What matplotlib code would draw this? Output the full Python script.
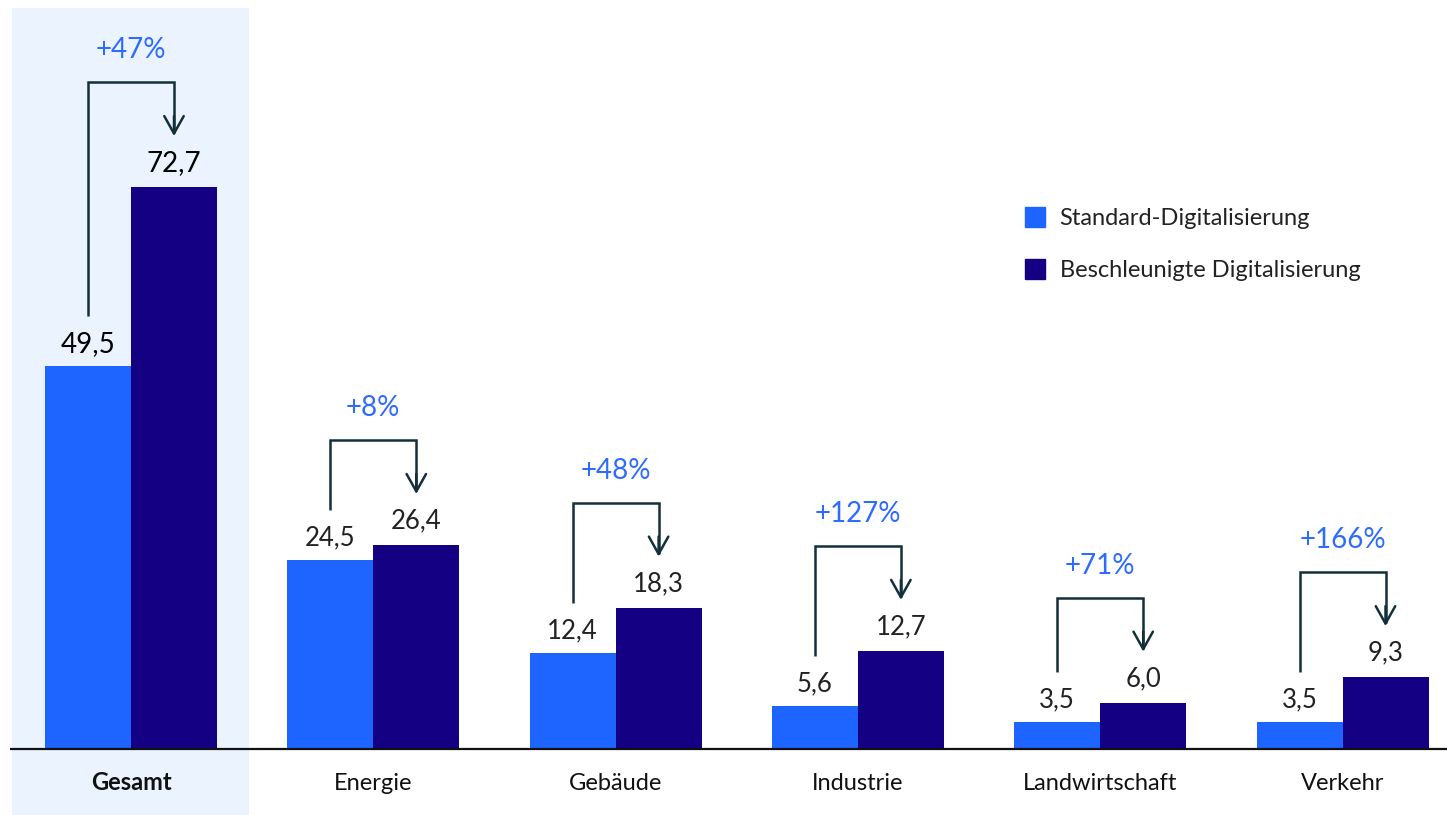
import matplotlib.pyplot as plt
from matplotlib.lines import Line2D
from matplotlib.patches import Rectangle

plt.rcParams['font.family'] = ['Lato', 'DejaVu Sans']

categories = ['Gesamt', 'Energie', 'Gebäude', 'Industrie', 'Landwirtschaft', 'Verkehr']
standard = [49.5, 24.5, 12.4, 5.6, 3.5, 3.5]
beschleunigt = [72.7, 26.4, 18.3, 12.7, 6.0, 9.3]
changes = ['+47%', '+8%', '+48%', '+127%', '+71%', '+166%']
series_names = ['Standard-Digitalisierung', 'Beschleunigte Digitalisierung']

c_std = '#1E64FF'
c_acc = '#140082'
c_arrow = '#12303A'
c_pct = '#2D6BFF'
c_bg = '#EAF3FE'

W, H = 1447, 815
fig = plt.figure(figsize=(W / 100, H / 100), dpi=100)
ax = fig.add_axes([0, 0, 1, 1])

# pixel geometry -> data units
px_x = 242.3          # px per category step
px_y = 7.73           # px per unit value
x0_px, base_px = 131, 749
ax.set_xlim(-x0_px / px_x, (W - x0_px) / px_x)
ax.set_ylim(-(H - base_px) / px_y, base_px / px_y)
ax.axis('off')
dy = 1 / px_y
bw = 86 / px_x

# highlight behind Gesamt
ax.add_patch(Rectangle((-0.49, -(H - base_px) / px_y), 0.978,
                       (base_px - 8) / px_y + (H - base_px) / px_y,
                       color=c_bg, zorder=0, lw=0))

xs = list(range(len(categories)))
ax.bar([x - bw / 2 for x in xs], standard, width=bw, color=c_std, zorder=2)
ax.bar([x + bw / 2 for x in xs], beschleunigt, width=bw, color=c_acc, zorder=2)
ax.plot([-0.5, ax.get_xlim()[1]], [0, 0], color='#111111', lw=1.6, zorder=3,
        solid_capstyle='butt')

for i, x in enumerate(xs):
    s, b = standard[i], beschleunigt[i]
    vsize = 20 if i == 0 else 18.5
    vcol = '#000000' if i == 0 else '#222222'
    ax.text(x - bw / 2, s + 22 * dy, f'{s:.1f}'.replace('.', ','), ha='center',
            va='center', fontsize=vsize, color=vcol)
    ax.text(x + bw / 2, b + 24 * dy, f'{b:.1f}'.replace('.', ','), ha='center',
            va='center', fontsize=vsize, color=vcol)
    top = b + 105 * dy
    tip = b + 51 * dy
    ax.plot([x - bw / 2, x - bw / 2, x + bw / 2, x + bw / 2],
            [s + 50 * dy, top, top, tip + 3 * dy],
            color=c_arrow, lw=1.8, zorder=4, solid_joinstyle='miter',
            solid_capstyle='butt')
    ax.annotate('', xy=(x + bw / 2, tip), xytext=(x + bw / 2, tip + 20 * dy),
                arrowprops=dict(arrowstyle='->,head_length=1.25,head_width=0.7',
                                color=c_arrow, lw=1.8, shrinkA=0, shrinkB=0),
                zorder=4)
    ax.text(x, top + 32 * dy, changes[i], ha='center', va='center',
            fontsize=20, color=c_pct)
    ax.text(x, -34 * dy, categories[i], ha='center', va='center', fontsize=17,
            color='#111111', fontweight='bold' if i == 0 else 'normal')

handles = [Line2D([], [], marker='s', ls='', markersize=15, color=c)
           for c in (c_std, c_acc)]
ax.legend(handles, series_names, loc='upper left',
          bbox_to_anchor=(1003 / W, 1 - 187 / H), frameon=False, fontsize=17,
          handletextpad=0.6, labelspacing=1.3, handlelength=0.9,
          labelcolor='#222222')

plt.savefig('out.png', dpi=100)
